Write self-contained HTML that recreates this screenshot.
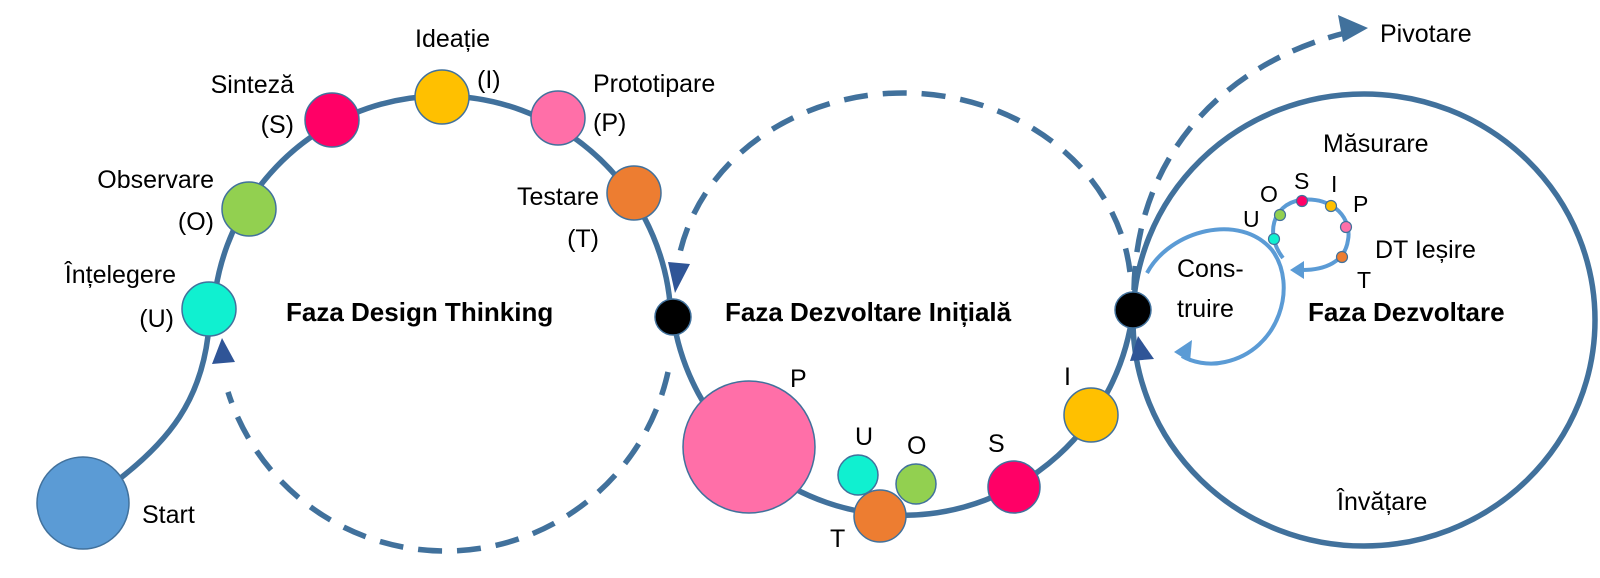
<!DOCTYPE html>
<html><head><meta charset="utf-8"><style>
html,body{margin:0;padding:0;background:#fff;}
svg{display:block;}
text{font-family:"Liberation Sans",sans-serif;font-size:25px;fill:#000;}
.b{font-weight:bold;font-size:26px;}
.s{font-size:23px;}
.e{text-anchor:end;}
</style></head><body>
<svg width="1600" height="578" viewBox="0 0 1600 578" xmlns="http://www.w3.org/2000/svg">
<g fill="none" stroke="#41719C" stroke-width="5.5">
  <path d="M118,480 C170,440 200,400 208,336"/>
  <path d="M213,330 A228,228 0 1 1 671,320"/>
  <path d="M668,372 A228,228 0 0 1 228,392" stroke-dasharray="24 15"/>
  <path d="M673,317 A232,232 0 0 0 1133,310"/>
  <path d="M1130,272 A228,200 0 0 0 678,262" stroke-dasharray="24 15"/>
  <ellipse cx="1364" cy="320" rx="231" ry="226"/>
  <path d="M1134,290 C1136,150 1230,62 1345,33" stroke-dasharray="24 14"/>
</g>
<g fill="#2F5597">
  <polygon points="222,338 212,364 235,362"/>
  <polygon points="675,293 668,262 690,264"/>
  <polygon points="1138,336 1130,361 1154,359"/>
</g>
<polygon points="1368,28 1338,15 1343,42" fill="#41719C"/>
<!-- Construire loop -->
<g fill="none" stroke="#5B9BD5" stroke-width="4">
  <path d="M1147,273 C1170,230 1240,212 1272,250 C1298,285 1280,350 1225,362 C1208,366 1192,362 1182,356"/>
  <path d="M1283,258 C1265,235 1272,205 1300,200 C1335,196 1352,220 1348,240 C1345,262 1325,270 1302,270"/>
</g>
<polygon points="1174,352 1192,340 1190,362" fill="#5B9BD5"/>
<polygon points="1290,270 1304,261 1304,279" fill="#5B9BD5"/>
<g stroke="#41719C" stroke-width="1.2">
  <circle cx="1274" cy="239" r="5.5" fill="#10F0D0"/>
  <circle cx="1280" cy="215" r="5.5" fill="#92D050"/>
  <circle cx="1302" cy="201" r="5.5" fill="#FF0066"/>
  <circle cx="1331" cy="206" r="5.5" fill="#FFC000"/>
  <circle cx="1346" cy="227" r="5.5" fill="#FF6FA8"/>
  <circle cx="1342" cy="257" r="5.5" fill="#ED7D31"/>
</g>
<!-- nodes -->
<g stroke="#41719C" stroke-width="1.5">
  <circle cx="83" cy="503" r="46" fill="#5B9BD5"/>
  <circle cx="209" cy="309" r="27" fill="#10F0D0"/>
  <circle cx="249" cy="209" r="27" fill="#92D050"/>
  <circle cx="332" cy="120" r="27" fill="#FF0066"/>
  <circle cx="442" cy="97" r="27" fill="#FFC000"/>
  <circle cx="558" cy="118" r="27" fill="#FF6FA8"/>
  <circle cx="634" cy="193" r="27" fill="#ED7D31"/>
  <circle cx="749" cy="447" r="66" fill="#FF6FA8"/>
  <circle cx="858" cy="475" r="20" fill="#10F0D0"/>
  <circle cx="916" cy="484" r="20" fill="#92D050"/>
  <circle cx="880" cy="516" r="26" fill="#ED7D31"/>
  <circle cx="1014" cy="487" r="26" fill="#FF0066"/>
  <circle cx="1091" cy="415" r="27" fill="#FFC000"/>
  <circle cx="673" cy="317" r="18" fill="#000"/>
  <circle cx="1133" cy="310" r="18" fill="#000"/>
</g>
<!-- labels -->
<text x="176" y="283" class="e">Înțelegere</text>
<text x="174" y="327" class="e">(U)</text>
<text x="214" y="188" class="e">Observare</text>
<text x="214" y="230" class="e">(O)</text>
<text x="294" y="93" class="e">Sinteză</text>
<text x="294" y="133" class="e">(S)</text>
<text x="415" y="47">Ideație</text>
<text x="477" y="88">(I)</text>
<text x="593" y="92">Prototipare</text>
<text x="593" y="131">(P)</text>
<text x="599" y="205" class="e">Testare</text>
<text x="599" y="247" class="e">(T)</text>
<text x="286" y="321" class="b">Faza Design Thinking</text>
<text x="725" y="321" class="b">Faza Dezvoltare Inițială</text>
<text x="142" y="523">Start</text>
<text x="790" y="387">P</text>
<text x="855" y="445">U</text>
<text x="907" y="454">O</text>
<text x="830" y="547">T</text>
<text x="988" y="452">S</text>
<text x="1064" y="385">I</text>
<text x="1380" y="42">Pivotare</text>
<text x="1323" y="152">Măsurare</text>
<text x="1243" y="227" class="s">U</text>
<text x="1260" y="202" class="s">O</text>
<text x="1294" y="189" class="s">S</text>
<text x="1331" y="192" class="s">I</text>
<text x="1353" y="212" class="s">P</text>
<text x="1375" y="258">DT Ieșire</text>
<text x="1357" y="288" class="s">T</text>
<text x="1177" y="277">Cons-</text>
<text x="1177" y="317">truire</text>
<text x="1308" y="321" class="b">Faza Dezvoltare</text>
<text x="1337" y="510">Învățare</text>
</svg>
</body></html>
